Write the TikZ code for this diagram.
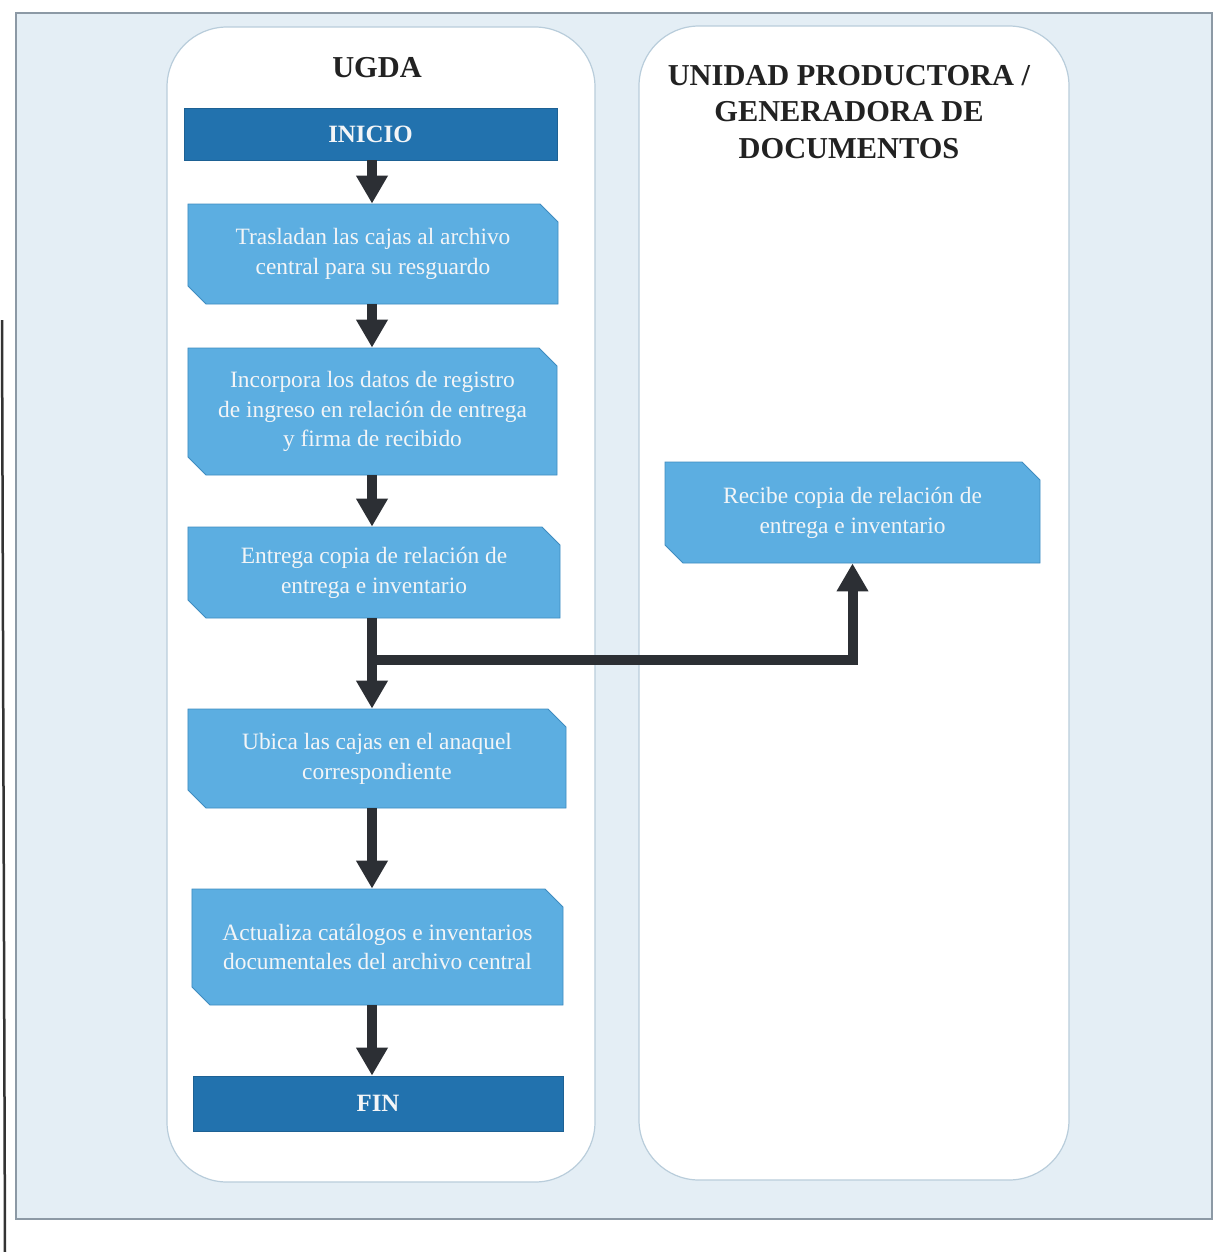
\documentclass[tikz,border=0pt]{standalone}
\usepackage{fontspec}
\setmainfont{Liberation Serif}
\usetikzlibrary{shapes.misc,arrows.meta}
\definecolor{pagebg}{HTML}{E4EEF5}
\definecolor{pageedge}{HTML}{8C99A5}
\definecolor{laneedge}{HTML}{B9CDDB}
\definecolor{darkbox}{HTML}{2272AE}
\definecolor{lightbox}{HTML}{5CAEE1}
\definecolor{lightedge}{HTML}{3F8CC0}
\definecolor{arrowc}{HTML}{2C2F34}
\definecolor{boxtext}{HTML}{F3F5F7}
\definecolor{headtext}{HTML}{222222}
\tikzset{
  lane/.style={draw=laneedge, line width=1.2bp, fill=white, rounded corners=60bp},
  termbox/.style={rectangle, fill=darkbox, draw=darkbox!85!black, line width=0.8bp,
    text=boxtext, font=\fontsize{25}{30}\selectfont\bfseries, inner sep=0pt},
  procbox/.style={chamfered rectangle, chamfered rectangle corners={north east,south west},
    chamfered rectangle xsep=9bp, chamfered rectangle ysep=9bp,
    fill=lightbox, draw=lightedge, line width=0.8bp, text=boxtext,
    font=\fontsize{23.5}{30}\selectfont, align=center, inner sep=0pt},
  heading/.style={text=headtext, font=\fontsize{30.5}{37}\selectfont\bfseries, align=center},
  flow/.style={draw=arrowc, line width=10bp, -{Triangle[width=30bp,length=28bp]}},
  flowline/.style={draw=arrowc, line width=10bp}
}
\begin{document}
\begin{tikzpicture}[x=1bp,y=-1bp]
\useasboundingbox (0,0) rectangle (1214,1252);
\fill[white] (0,0) rectangle (1214,1252);
% page frame
\draw[pageedge, line width=1.5bp, fill=pagebg] (16,13) rectangle (1212,1219);
\draw[black!80, line width=2.5bp] (2,320) -- (5,1252);
% lanes
\draw[lane] (167,27) rectangle (595,1182);
\draw[lane] (639,26) rectangle (1069,1180);
% headings
\node[heading] (h1) at (377,68) {UGDA};
\node[heading] (h2) at (849,112) {UNIDAD PRODUCTORA /\\GENERADORA DE\\DOCUMENTOS};
% nodes
\node[termbox, minimum width=373bp, minimum height=52bp] (ini) at (370.5,134) {INICIO};
\node[procbox, minimum width=370bp, minimum height=100bp] (b1) at (373,254)
  {Trasladan las cajas al archivo\\central para su resguardo};
\node[procbox, minimum width=369bp, minimum height=127bp] (b2) at (372.5,411.5)
  {Incorpora los datos de registro\\de ingreso en relación de entrega\\y firma de recibido};
\node[procbox, minimum width=372bp, minimum height=91bp] (b3) at (374,572.5)
  {Entrega copia de relación de\\entrega e inventario};
\node[procbox, minimum width=378bp, minimum height=99bp] (b4) at (377,758.5)
  {Ubica las cajas en el anaquel\\correspondiente};
\node[procbox, minimum width=371bp, minimum height=116bp] (b5) at (377.5,947)
  {Actualiza catálogos e inventarios\\documentales del archivo central};
\node[termbox, minimum width=370bp, minimum height=55bp] (fin) at (378,1103.5) {FIN};
\node[procbox, minimum width=375bp, minimum height=101bp] (r1) at (852.5,512.5)
  {Recibe copia de relación de\\entrega e inventario};
% connectors
\coordinate (x) at (372,0);
\coordinate (j) at (372,660);
\draw[flow] (x |- ini.south) -- (x |- b1.north);
\draw[flow] (x |- b1.south) -- (x |- b2.north);
\draw[flow] (x |- b2.south) -- (x |- b3.north);
\draw[flow] (x |- b3.south) -- (x |- b4.north);
\draw[flow] (x |- b4.south) -- (x |- b5.north);
\draw[flow] (x |- b5.south) -- (x |- fin.north);
\draw[flow] ([xshift=-5bp]j) -| (r1.south);
\end{tikzpicture}
\end{document}
